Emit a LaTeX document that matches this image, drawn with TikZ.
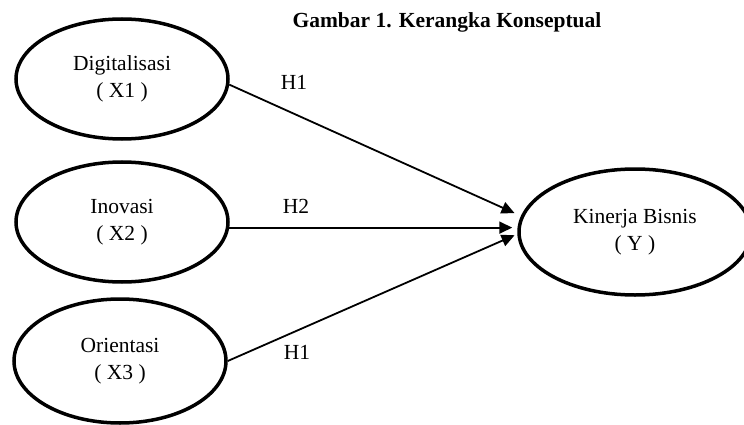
\documentclass[tikz,border=0pt]{standalone}
\usepackage{fontspec}
\setmainfont{Liberation Serif}
\usetikzlibrary{shapes.geometric, arrows.meta}

\begin{document}
\begin{tikzpicture}[x=1pt, y=-1pt,
        var/.style={ellipse, draw, line width=3.5pt, inner sep=0pt, align=center,
            font=\fontsize{21.5}{27}\selectfont},
        link/.style={-{Triangle[length=13pt, width=12pt]}, line width=1.8pt},
        hyp/.style={font=\fontsize{21.5}{26}\selectfont}]
            \useasboundingbox (0,0) rectangle (744,425);

            % Title
            \node[font=\fontsize{21.5}{26}\selectfont\bfseries] (title) at (447, 22) {Gambar 1. Kerangka Konseptual};

            % Nodes
            \node[var, minimum width=212pt, minimum height=120pt] (x1) at (122, 79) {Digitalisasi\\( X1 )};
            \node[var, minimum width=212pt, minimum height=120pt] (x2) at (122, 222) {Inovasi\\( X2 )};
            \node[var, minimum width=212pt, minimum height=124pt] (x3) at (120, 361) {Orientasi\\( X3 )};
            \node[var, minimum width=232pt, minimum height=126pt] (y) at (635, 232) {Kinerja Bisnis\\( Y )};

            % Lines
            \draw[link, shorten >=7pt] (x1.-3) -- (y.172);
            \draw[link, shorten >=5pt] (x2.-3) -- (x2.-3 -| y.west);
            \draw[link, shorten >=3pt] (x3.east) -- (y.181);

            % Labels
            \node[hyp] (h1) at (294, 82) {H1};
            \node[hyp] (h2) at (296, 206) {H2};
            \node[hyp] (h3) at (297, 352) {H1};

        \end{tikzpicture}
\end{document}
